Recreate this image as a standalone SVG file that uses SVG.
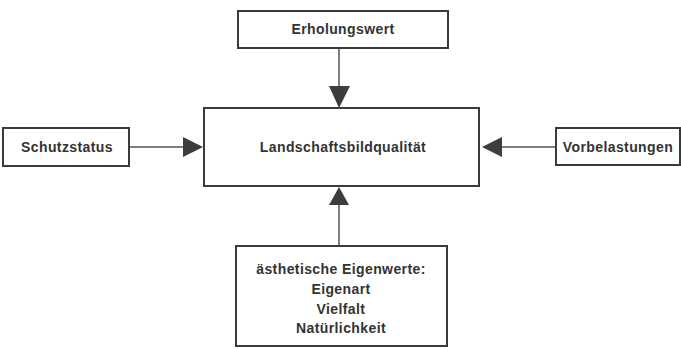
<svg xmlns="http://www.w3.org/2000/svg" width="681" height="349" viewBox="0 0 681 349">
<defs>
<style>
.box{fill:#fff;stroke:#3a3a3a;stroke-width:2}
.t{font-family:"Liberation Sans",Arial,sans-serif;font-weight:bold;font-size:14px;fill:#333;text-anchor:middle;letter-spacing:0.4px}
.c{stroke:#555;stroke-width:1.5;fill:none}
.ah{fill:#3d3d3d}
</style>
</defs>
<rect width="681" height="349" fill="#fff"/>
<g id="connectors">
<line class="c" x1="339" y1="48" x2="339" y2="88"/>
<polygon class="ah" points="329,86 350,86 339,108"/>
<line class="c" x1="129" y1="147" x2="185" y2="147"/>
<polygon class="ah" points="183,137 183,157 203,147"/>
<line class="c" x1="556" y1="147" x2="500" y2="147"/>
<polygon class="ah" points="502,137 502,157 482,147"/>
<line class="c" x1="339" y1="246" x2="339" y2="203"/>
<polygon class="ah" points="329,205 349,205 339,187"/>
</g>
<g id="erholungswert">
<rect class="box" x="238" y="11" width="210" height="37"/>
<text class="t" x="343" y="34">Erholungswert</text>
</g>
<g id="landschaftsbildqualitaet">
<rect class="box" x="204" y="108" width="275" height="78"/>
<text class="t" x="343" y="152">Landschaftsbildqualität</text>
</g>
<g id="schutzstatus">
<rect class="box" x="3" y="128" width="126" height="38"/>
<text class="t" x="67" y="152">Schutzstatus</text>
</g>
<g id="vorbelastungen">
<rect class="box" x="556" y="128" width="124" height="37"/>
<text class="t" x="618" y="152">Vorbelastungen</text>
</g>
<g id="eigenwerte">
<rect class="box" x="236" y="246" width="211" height="100"/>
<text class="t" x="341" y="274">ästhetische Eigenwerte:</text>
<text class="t" x="341" y="294">Eigenart</text>
<text class="t" x="341" y="314">Vielfalt</text>
<text class="t" x="341" y="333">Natürlichkeit</text>
</g>
</svg>
